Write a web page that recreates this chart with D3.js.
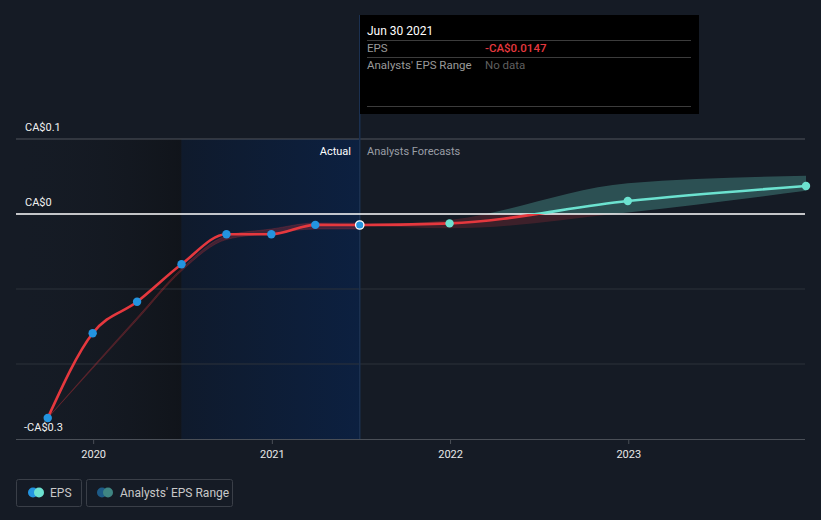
<!DOCTYPE html>
<html><head><meta charset="utf-8">
<script src="https://cdn.jsdelivr.net/npm/d3@7"></script>
<style>
html,body{margin:0;padding:0;background:#151b25;}
svg{display:block;font-family:Roboto,"Noto Sans",sans-serif;}
</style></head>
<body>
<svg id="chart" width="821" height="520"></svg>
<script>
// ---- data ----
const actualDates = ["2019-09-30","2019-12-31","2020-03-31","2020-06-30","2020-09-30","2020-12-31","2021-03-31","2021-06-30"];
const actualEPS   = [-0.272,-0.159,-0.117,-0.067,-0.027,-0.027,-0.0145,-0.0147];
const pastRangeLow  = [-0.272,-0.206,-0.141,-0.076,-0.034,-0.026,-0.020,-0.020];
const pastRangeHigh = [-0.272,-0.204,-0.138,-0.073,-0.029,-0.020,-0.012,-0.012];
const forecastDates = ["2021-06-30","2021-12-31","2022-12-31","2023-12-31"];
const forecastEPS   = [-0.0147,-0.0125,0.0173,0.0373];
const rangeLow      = [-0.0147,-0.019,0.002,0.031];
const rangeHigh     = [-0.0147,-0.008,0.041,0.051];
const yTicks = [0.1,0,-0.1,-0.2,-0.3];
const yLabels = [[0.1,"CA$0.1"],[0,"CA$0"],[-0.3,"-CA$0.3"]];
const xTickDates = ["2020-01-01","2021-01-01","2022-01-01","2023-01-01"];
const tooltip = {date:"Jun 30 2021", eps:"-CA$0.0147", range:"No data"};

const P = d3.timeParse("%Y-%m-%d");
const svg = d3.select("#chart");
const x = d3.scaleTime().domain([P("2019-07-27"), P("2023-12-31")]).range([16, 806]);
const y = d3.scaleLinear().domain([-0.3, 0.1]).range([439, 139]);
const plotTop = y(0.1), plotBot = y(-0.3);

const defs = svg.append("defs");
const g1 = defs.append("linearGradient").attr("id","pastG").attr("x1","0").attr("x2","1");
g1.append("stop").attr("offset","0").attr("stop-color","#161b24").attr("stop-opacity",0);
g1.append("stop").attr("offset","1").attr("stop-color","#0f1217").attr("stop-opacity",0.75);
const g2 = defs.append("linearGradient").attr("id","blueG").attr("x1","0").attr("x2","1");
g2.append("stop").attr("offset","0").attr("stop-color","#0f1a2c");
g2.append("stop").attr("offset","1").attr("stop-color","#0c2040");
defs.append("clipPath").attr("id","above").append("rect").attr("x",0).attr("y",0).attr("width",821).attr("height",y(0));
defs.append("clipPath").attr("id","below").append("rect").attr("x",0).attr("y",y(0)).attr("width",821).attr("height",520-y(0));

// background regions
svg.append("rect").attr("x",16).attr("y",plotTop).attr("width",x(P("2020-06-30"))-16).attr("height",plotBot-plotTop).attr("fill","url(#pastG)");
svg.append("rect").attr("x",x(P("2020-06-30"))).attr("y",plotTop).attr("width",x(P("2021-06-30"))-x(P("2020-06-30"))).attr("height",plotBot-plotTop).attr("fill","url(#blueG)");

// gridlines
svg.append("g").selectAll("line").data(yTicks.filter(d=>d!==0 && d!==-0.3)).join("line")
  .attr("x1",16).attr("x2",805).attr("y1",d=>y(d)).attr("y2",d=>y(d))
  .attr("stroke",d=>d===0.1?"#50555d":"#2c323b").attr("stroke-width",1);

// crosshair
svg.append("line").attr("x1",x(P("2021-06-30"))).attr("x2",x(P("2021-06-30"))).attr("y1",15).attr("y2",plotBot)
  .attr("stroke","#1b3050").attr("stroke-width",1.5);

// x axis
const xa = svg.append("g").attr("transform",`translate(0,${plotBot})`)
  .call(d3.axisBottom(x).tickValues(xTickDates.map(P)).tickFormat(d3.timeFormat("%Y")).tickSize(5).tickPadding(6));
xa.select(".domain").remove();
xa.selectAll("line").attr("stroke","#4a4f57");
xa.selectAll("text").attr("fill","#e8e8e8").attr("font-size",11).attr("font-family","Roboto,sans-serif");
svg.append("line").attr("x1",16).attr("x2",805).attr("y1",plotBot+0.5).attr("y2",plotBot+0.5).attr("stroke","#4a4f57");

// y labels
svg.append("g").selectAll("text").data(yLabels).join("text")
  .attr("x",d=>d[0]<0?24:25).attr("y",d=>y(d[0])-8).attr("fill","#f0f0f0").attr("font-size",11).text(d=>d[1]);

// Actual / Forecast labels
svg.append("text").attr("x",351).attr("y",155).attr("text-anchor","end").attr("fill","#ffffff").attr("font-size",11).text("Actual");
svg.append("text").attr("x",367).attr("y",155).attr("fill","#9a9ea5").attr("font-size",11).text("Analysts Forecasts");

// past range band
const pastData = actualDates.map((d,i)=>({d:P(d),lo:pastRangeLow[i],hi:pastRangeHigh[i]}));
svg.append("path").datum(pastData)
  .attr("d",d3.area().x(d=>x(d.d)).y0(d=>y(d.lo)).y1(d=>y(d.hi)).curve(d3.curveMonotoneX))
  .attr("fill","#e0383e").attr("fill-opacity",0.25).attr("stroke","#e0383e").attr("stroke-opacity",0.2).attr("stroke-width",1);

// forecast range band
const fData = forecastDates.map((d,i)=>({d:P(d),v:forecastEPS[i],lo:rangeLow[i],hi:rangeHigh[i]}));
const bandArea = d3.area().x(d=>x(d.d)).y0(d=>y(d.lo)).y1(d=>y(d.hi)).curve(d3.curveMonotoneX);
svg.append("path").datum(fData).attr("d",bandArea).attr("fill","#5ab5aa").attr("fill-opacity",0.35).attr("clip-path","url(#above)");
svg.append("path").datum(fData).attr("d",bandArea).attr("fill","#8a2a33").attr("fill-opacity",0.35).attr("clip-path","url(#below)");

// zero line
svg.append("line").attr("x1",16).attr("x2",805).attr("y1",y(0)).attr("y2",y(0)).attr("stroke","#ffffff").attr("stroke-width",1.3);

// actual line
const aData = actualDates.map((d,i)=>({d:P(d),v:actualEPS[i]}));
const ln = d3.line().x(d=>x(d.d)).y(d=>y(d.v)).curve(d3.curveMonotoneX);
svg.append("path").datum(aData).attr("d",ln).attr("fill","none").attr("stroke","#e5383e").attr("stroke-width",2.6);

// forecast line
svg.append("path").datum(fData).attr("d",ln).attr("fill","none").attr("stroke","#e5383e").attr("stroke-width",2.6).attr("clip-path","url(#below)");
svg.append("path").datum(fData).attr("d",ln).attr("fill","none").attr("stroke","#6ce2d0").attr("stroke-width",2.6).attr("clip-path","url(#above)");

// points
svg.append("g").selectAll("circle").data(aData).join("circle")
  .attr("cx",d=>x(d.d)).attr("cy",d=>y(d.v)).attr("r",4.2)
  .attr("fill","#2394e0")
  .attr("stroke",(d,i)=>i===aData.length-1?"#ffffff":"none").attr("stroke-width",1.3);
svg.append("g").selectAll("circle").data(fData.slice(1)).join("circle")
  .attr("cx",d=>x(d.d)).attr("cy",d=>y(d.v)).attr("r",4.2).attr("fill","#6ce2d0");

// tooltip
const tt = svg.append("g");
tt.append("rect").attr("x",360).attr("y",15).attr("width",339).attr("height",99).attr("fill","#000000");
tt.append("text").attr("x",367).attr("y",35).attr("fill","#ffffff").attr("font-size",12).text(tooltip.date);
[40,57,106].forEach(v=>tt.append("line").attr("x1",367).attr("x2",691).attr("y1",v+0.5).attr("y2",v+0.5).attr("stroke","#3c3c3c"));
tt.append("text").attr("x",367).attr("y",52).attr("fill","#9a9a9a").attr("font-size",11.5).text("EPS");
tt.append("text").attr("x",485).attr("y",52).attr("fill","#e5383e").attr("font-size",11.5).attr("font-weight",500).text(tooltip.eps);
tt.append("text").attr("x",367).attr("y",69).attr("fill","#9a9a9a").attr("font-size",11.5).text("Analysts' EPS Range");
tt.append("text").attr("x",485).attr("y",69).attr("fill","#5f5f5f").attr("font-size",11.5).text(tooltip.range);

// legend
const lg = svg.append("g");
lg.append("rect").attr("x",16.5).attr("y",479.5).attr("width",65).attr("height",27).attr("rx",2).attr("fill","none").attr("stroke","#3a3f48");
lg.append("circle").attr("cx",33).attr("cy",492.5).attr("r",5).attr("fill","#2394e0");
lg.append("circle").attr("cx",39).attr("cy",492.5).attr("r",5).attr("fill","#6ce2d0");
lg.append("text").attr("x",50).attr("y",497).attr("fill","#c8c8c8").attr("font-size",12).text("EPS");
lg.append("rect").attr("x",86.5).attr("y",479.5).attr("width",146).attr("height",27).attr("rx",2).attr("fill","none").attr("stroke","#3a3f48");
lg.append("circle").attr("cx",102).attr("cy",492.5).attr("r",5).attr("fill","#1d5a86");
lg.append("circle").attr("cx",108).attr("cy",492.5).attr("r",5).attr("fill","#3f8582");
lg.append("text").attr("x",120).attr("y",497).attr("fill","#c8c8c8").attr("font-size",12).text("Analysts' EPS Range");
</script>
</body></html>
